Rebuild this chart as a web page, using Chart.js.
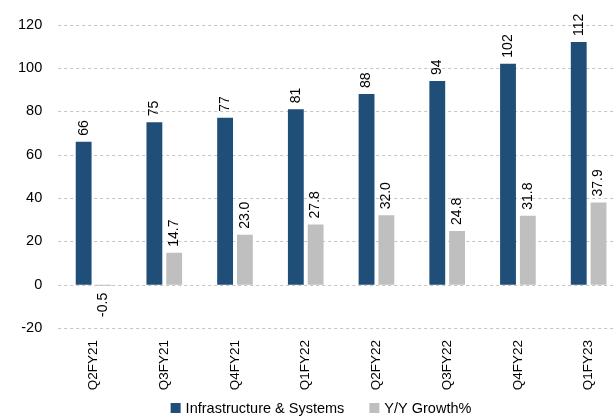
<!DOCTYPE html>
<html lang="en">
<head>
    <meta charset="UTF-8">
    <title>Infrastructure & Systems</title>
    <script src="https://cdn.jsdelivr.net/npm/chart.js@4.4.0/dist/chart.umd.min.js"></script>
    <style>
        html, body { margin: 0; padding: 0; background: #fff; overflow: hidden; }
        #wrap { position: relative; width: 624px; height: 416px; }
    </style>
</head>
<body>
    <div id="wrap"><canvas id="chart"></canvas></div>
    <script>
        // quarterly revenue and y/y growth
        const quarters = ['Q2FY21', 'Q3FY21', 'Q4FY21', 'Q1FY22', 'Q2FY22', 'Q3FY22', 'Q4FY22', 'Q1FY23'];
        const revenue = [66, 75, 77, 81, 88, 94, 102, 112];
        const growth = [-0.5, 14.7, 23.0, 27.8, 32.0, 24.8, 31.8, 37.9];
        const yTicks = [-20, 0, 20, 40, 60, 80, 100, 120];

        const FONT = 'Liberation Sans, Arial, sans-serif';

        // dashed horizontal gridlines behind the bars
        const dashedGrid = {
            id: 'dashedGrid',
            beforeDatasetsDraw(chart) {
                const { ctx, chartArea, scales } = chart;
                ctx.save();
                ctx.strokeStyle = '#c4c4c4';
                ctx.lineWidth = 1;
                ctx.setLineDash([3, 3]);
                yTicks.forEach(v => {
                    const y = Math.round(scales.y.getPixelForValue(v)) + 0.5;
                    ctx.beginPath();
                    ctx.moveTo(chartArea.left, y);
                    ctx.lineTo(chartArea.right, y);
                    ctx.stroke();
                });
                ctx.restore();
            }
        };

        // draws each value rotated next to its bar
        const barLabels = {
            id: 'barLabels',
            afterDatasetsDraw(chart) {
                const ctx = chart.ctx;
                ctx.save();
                ctx.font = '14px ' + FONT;
                ctx.fillStyle = '#000';
                ctx.textBaseline = 'middle';
                chart.data.datasets.forEach((ds, i) => {
                    const meta = chart.getDatasetMeta(i);
                    meta.data.forEach((bar, j) => {
                        const v = ds.data[j];
                        const txt = i === 1 ? v.toFixed(1) : String(v);
                        ctx.save();
                        ctx.translate(bar.x, bar.y);
                        ctx.rotate(-Math.PI / 2);
                        if (v >= 0) {
                            ctx.textAlign = 'left';
                            ctx.fillText(txt, 6, 0);
                        } else {
                            ctx.textAlign = 'right';
                            ctx.fillText(txt, -7, 0);
                        }
                        ctx.restore();
                    });
                });
                ctx.restore();
            }
        };

        // legend row along the bottom edge
        const bottomLegend = {
            id: 'bottomLegend',
            afterDraw(chart) {
                const ctx = chart.ctx;
                const box = 10, gap = 5, spacing = 25;
                ctx.save();
                ctx.font = '14.5px ' + FONT;
                ctx.textBaseline = 'middle';
                ctx.textAlign = 'left';
                const items = chart.data.datasets.map(ds => ({
                    text: ds.label, color: ds.backgroundColor, w: ctx.measureText(ds.label).width
                }));
                const total = items.reduce((s, it) => s + box + gap + it.w, 0) + spacing * (items.length - 1);
                let x = chart.width / 2 + 9 - total / 2;
                const y = chart.height - 8;
                items.forEach(it => {
                    ctx.fillStyle = it.color;
                    ctx.fillRect(x, y - box / 2, box, box);
                    ctx.fillStyle = '#000';
                    ctx.fillText(it.text, x + box + gap, y + 1);
                    x += box + gap + it.w + spacing;
                });
                ctx.restore();
            }
        };

        new Chart(document.getElementById('chart'), {
            type: 'bar',
            data: {
                labels: quarters,
                datasets: [{
                    label: 'Infrastructure & Systems',
                    data: revenue,
                    backgroundColor: '#1f4e79',
                    barPercentage: 0.8,
                    categoryPercentage: 0.56
                }, {
                    label: 'Y/Y Growth%',
                    data: growth,
                    backgroundColor: '#bfbfbf',
                    barPercentage: 0.8,
                    categoryPercentage: 0.56
                }]
            },
            options: {
                responsive: true,
                maintainAspectRatio: false,
                animation: false,
                layout: { padding: { top: 2, left: 2, right: 0, bottom: 22 } },
                plugins: {
                    tooltip: { enabled: false },
                    legend: { display: false }
                },
                scales: {
                    x: {
                        grid: { display: false, drawTicks: false },
                        border: { display: false },
                        afterFit: axis => { axis.height = 66; },
                        ticks: {
                            minRotation: 90,
                            maxRotation: 90,
                            padding: 12,
                            color: '#000',
                            font: { size: 13.5, family: FONT }
                        }
                    },
                    y: {
                        min: -20,
                        max: 120,
                        afterBuildTicks: axis => { axis.ticks = yTicks.map(v => ({ value: v })); },
                        border: { display: false },
                        grid: { display: false, drawTicks: false },
                        ticks: {
                            padding: 16,
                            color: '#000',
                            font: { size: 14.5, family: FONT }
                        }
                    }
                }
            },
            plugins: [dashedGrid, barLabels, bottomLegend]
        });
    </script>
</body>
</html>
